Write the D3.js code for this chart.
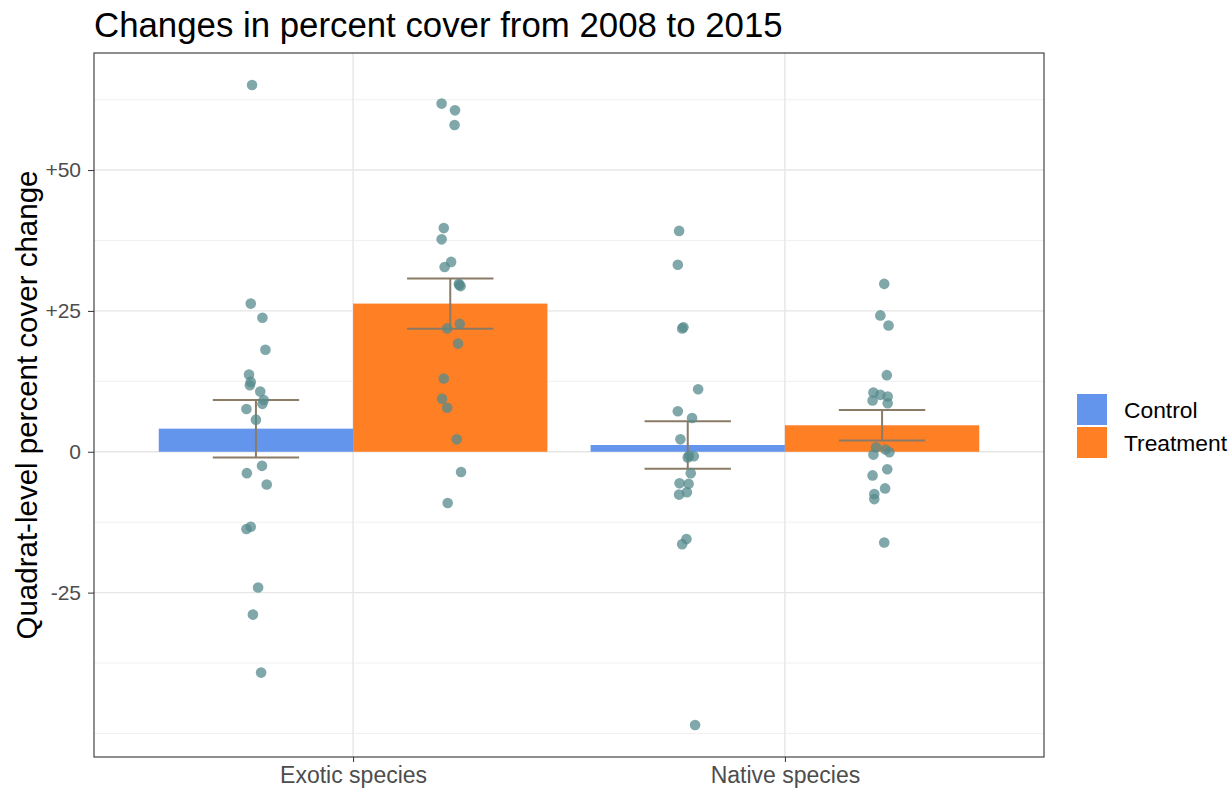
<!DOCTYPE html>
<html>
<head>
<meta charset="utf-8">
<script src="https://cdn.jsdelivr.net/npm/d3@7"></script>
<style>
  html, body { margin: 0; padding: 0; background: #fff; }
  svg { display: block; font-family: "Liberation Sans", Arial, sans-serif; }
</style>
</head>
<body>
<svg id="chart" width="1231" height="788"></svg>
<script>
// ---- data ----
const categories = ["Exotic species", "Native species"];
const groups = ["Control", "Treatment"];
const groupColors = ["#6495ED", "#FF7F24"];

// bar heights (mean change) and standard errors, by category then group
const barMeans = [[4.1, 26.3], [1.2, 4.7]];
const barSE = [[5.1, 4.45], [4.2, 2.7]];

// quadrat-level changes, per category/group
const exoticControl = [65.1, 26.3, 23.8, 18.1, 13.7, 12.4, 11.8, 10.7, 9.2, 8.5, 7.6, 5.7, -2.5, -3.8, -5.8, -13.3, -13.7, -24.1, -28.9, -39.2];
const exoticTreatment = [61.8, 60.6, 58.0, 39.7, 37.7, 33.7, 32.8, 29.8, 29.4, 29.6, 22.7, 21.9, 19.2, 13.0, 9.4, 7.8, 2.2, -3.6, -9.1];
const nativeControl = [39.2, 33.2, 22.1, 21.9, 11.1, 7.2, 6.0, 2.2, -1.0, -0.8, -0.7, -3.8, -5.6, -5.7, -7.2, -7.6, -15.5, -16.4, -48.5];
const nativeTreatment = [29.8, 24.2, 22.4, 13.6, 10.5, 10.1, 9.8, 9.1, 8.6, 0.8, 0.4, -0.1, -0.5, -3.1, -4.2, -6.5, -7.5, -8.4, -16.1];

// horizontal jitter of each point (in category units)
const jitterExoticControl = [-0.009, -0.012, 0.015, 0.022, -0.016, -0.012, -0.014, 0.010, 0.018, 0.015, -0.022, 0.000, 0.014, -0.021, 0.025, -0.012, -0.022, 0.005, -0.007, 0.012];
const jitterExoticTreatment = [-0.020, 0.011, 0.010, -0.015, -0.020, 0.002, -0.013, 0.020, 0.024, 0.021, 0.022, -0.007, 0.018, -0.015, -0.019, -0.007, 0.015, 0.025, -0.006];
const jitterNativeControl = [-0.020, -0.023, -0.010, -0.013, 0.024, -0.023, 0.010, -0.017, 0.000, 0.014, 0.003, 0.007, -0.019, 0.002, -0.002, -0.020, -0.003, -0.013, 0.017];
const jitterNativeTreatment = [0.005, -0.004, 0.015, 0.011, -0.020, -0.004, 0.013, -0.022, 0.013, -0.014, 0.008, 0.017, -0.020, 0.012, -0.022, 0.007, -0.018, -0.018, 0.005];

const yTicks = [-25, 0, 25, 50];
const yTickLabels = ["-25", "0", "+25", "+50"];
const yMinorTicks = [-50, -37.5, -12.5, 12.5, 37.5, 62.5];

const pointSets = [
  [exoticControl, jitterExoticControl],
  [exoticTreatment, jitterExoticTreatment],
  [nativeControl, jitterNativeControl],
  [nativeTreatment, jitterNativeTreatment]
];

// ---- layout ----
const panel = { left: 94, right: 1044, top: 53, bottom: 757 };
const svg = d3.select("#chart");

// discrete positions 1..n with 0.6 padding on each side
const x = d3.scaleLinear()
  .domain([0.4, categories.length + 0.6])
  .range([panel.left, panel.right]);

const allVals = pointSets.flatMap(p => p[0]).concat([0]);
const yMin = d3.min(allVals), yMax = d3.max(allVals);
const pad = (yMax - yMin) * 0.05;
const y = d3.scaleLinear()
  .domain([yMin - pad, yMax + pad])
  .range([panel.bottom, panel.top]);

const dodge = 0.45;          // bar width per group
const errW = 0.2;            // error-bar cap width
const groupOffset = g => (g - 0.5) * dodge;

// ---- grid ----
const grid = svg.append("g");
grid.selectAll("line.minor").data(yMinorTicks).join("line")
  .attr("x1", panel.left).attr("x2", panel.right)
  .attr("y1", d => y(d)).attr("y2", d => y(d))
  .attr("stroke", "#f1f1f1").attr("stroke-width", 1);
grid.selectAll("line.major").data(yTicks).join("line")
  .attr("x1", panel.left).attr("x2", panel.right)
  .attr("y1", d => y(d)).attr("y2", d => y(d))
  .attr("stroke", "#e6e6e6").attr("stroke-width", 1.4);
grid.selectAll("line.vert").data(categories).join("line")
  .attr("x1", (d, i) => x(i + 1)).attr("x2", (d, i) => x(i + 1))
  .attr("y1", panel.top).attr("y2", panel.bottom)
  .attr("stroke", "#e6e6e6").attr("stroke-width", 1.4);

// ---- bars ----
function ci1(d) { return d.ci + 1; }
const barData = [];
categories.forEach((c, ci) => groups.forEach((g, gi) => {
  barData.push({ ci, gi, mean: barMeans[ci][gi], se: barSE[ci][gi] });
}));

svg.append("g").selectAll("rect").data(barData).join("rect")
  .attr("x", d => x(ci1(d) + groupOffset(d.gi) - dodge / 2))
  .attr("width", d => x(ci1(d) + groupOffset(d.gi) + dodge / 2) - x(ci1(d) + groupOffset(d.gi) - dodge / 2))
  .attr("y", d => y(Math.max(0, d.mean)))
  .attr("height", d => Math.abs(y(d.mean) - y(0)))
  .attr("fill", d => groupColors[d.gi]);

// ---- error bars ----
const eb = svg.append("g").attr("stroke", "#8B7B66").attr("stroke-width", 2).attr("fill", "none");
barData.forEach(d => {
  const cx = ci1(d) + groupOffset(d.gi);
  const lo = d.mean - d.se, hi = d.mean + d.se;
  eb.append("line").attr("x1", x(cx)).attr("x2", x(cx)).attr("y1", y(lo)).attr("y2", y(hi));
  eb.append("line").attr("x1", x(cx - errW / 2)).attr("x2", x(cx + errW / 2)).attr("y1", y(lo)).attr("y2", y(lo));
  eb.append("line").attr("x1", x(cx - errW / 2)).attr("x2", x(cx + errW / 2)).attr("y1", y(hi)).attr("y2", y(hi));
});

// ---- points ----
const pts = [];
pointSets.forEach((set, si) => {
  const ci = Math.floor(si / 2), gi = si % 2;
  set[0].forEach((v, k) => pts.push({ cx: ci + 1 + groupOffset(gi) + set[1][k], v }));
});
svg.append("g").selectAll("circle").data(pts).join("circle")
  .attr("cx", d => x(d.cx)).attr("cy", d => y(d.v)).attr("r", 5.3)
  .attr("fill", "#568A8C").attr("fill-opacity", 0.75);

// ---- panel border ----
svg.append("rect")
  .attr("x", panel.left).attr("y", panel.top)
  .attr("width", panel.right - panel.left).attr("height", panel.bottom - panel.top)
  .attr("fill", "none").attr("stroke", "#333").attr("stroke-width", 1.1);

// ---- axes ----
const yAxis = d3.axisLeft(y).tickValues(yTicks)
  .tickFormat((d, i) => yTickLabels[i]).tickSize(6).tickPadding(7);
const gy = svg.append("g").attr("transform", `translate(${panel.left},0)`).call(yAxis);
gy.select(".domain").remove();
gy.selectAll(".tick line").attr("stroke", "#333");
gy.selectAll(".tick text").attr("fill", "#4D4D4D").style("font-size", "21px")
  .style("font-family", "'Liberation Sans', Arial, sans-serif");

const xAxis = d3.axisBottom(x).tickValues(categories.map((c, i) => i + 1))
  .tickFormat((d, i) => categories[i]).tickSize(5).tickPadding(5);
const gx = svg.append("g").attr("transform", `translate(0,${panel.bottom})`).call(xAxis);
gx.select(".domain").remove();
gx.selectAll(".tick line").attr("stroke", "#333");
gx.selectAll(".tick text").attr("fill", "#4D4D4D").style("font-size", "23px")
  .style("font-family", "'Liberation Sans', Arial, sans-serif");

// ---- titles ----
svg.append("text")
  .attr("x", panel.left).attr("y", 37)
  .style("font-size", "34.8px").attr("fill", "#000")
  .text("Changes in percent cover from 2008 to 2015");

svg.append("text")
  .attr("transform", `translate(37,${(panel.top + panel.bottom) / 2}) rotate(-90)`)
  .attr("text-anchor", "middle")
  .style("font-size", "29.5px").attr("fill", "#000")
  .text("Quadrat-level percent cover change");

// ---- legend ----
const legend = svg.append("g").attr("transform", "translate(1077,394)");
groups.forEach((g, i) => {
  legend.append("rect").attr("x", 0).attr("y", i * 33).attr("width", 30).attr("height", 31)
    .attr("fill", groupColors[i]);
  legend.append("text").attr("x", 47).attr("y", i * 33 + 24)
    .style("font-size", "22.8px").attr("fill", "#000").text(g);
});
</script>
</body>
</html>
